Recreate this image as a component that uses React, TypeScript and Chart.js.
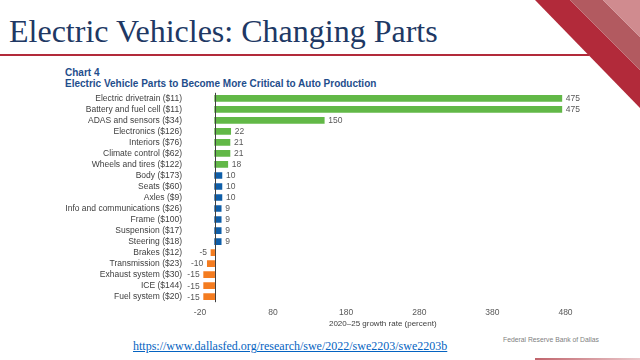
import React, { useEffect, useRef } from "react";
import { Chart, registerables } from "chart.js";

Chart.register(...registerables);

const categories = [
  "Electric drivetrain ($11)",
  "Battery and fuel cell ($11)",
  "ADAS and sensors ($34)",
  "Electronics ($126)",
  "Interiors ($76)",
  "Climate control ($62)",
  "Wheels and tires ($122)",
  "Body ($173)",
  "Seats ($60)",
  "Axles ($9)",
  "Info and communications ($26)",
  "Frame ($100)",
  "Suspension ($17)",
  "Steering ($18)",
  "Brakes ($12)",
  "Transmission ($23)",
  "Exhaust system ($30)",
  "ICE ($144)",
  "Fuel system ($20)",
];

const growthRates = [475, 475, 150, 22, 21, 21, 18, 10, 10, 10, 9, 9, 9, 9, -5, -10, -15, -15, -15];

const groups = [
  "high", "high", "high", "high", "high", "high", "high",
  "mid", "mid", "mid", "mid", "mid", "mid", "mid",
  "low", "low", "low", "low", "low",
];

const groupColors: Record<string, string> = {
  high: "#62B847",
  mid: "#0F5EA8",
  low: "#F47C20",
};

const xTicks = [-20, 80, 180, 280, 380, 480];

const FONT = "'Liberation Sans', Arial, sans-serif";

export default function App() {
  const ref = useRef<HTMLCanvasElement | null>(null);

  useEffect(() => {
    if (!ref.current) return;
    Chart.defaults.font.family = FONT;

    const zeroLine = {
      id: "zeroLine",
      afterDatasetsDraw(chart: any) {
        const { ctx, chartArea, scales } = chart;
        const x = Math.round(scales.x.getPixelForValue(0)) + 0.5;
        ctx.save();
        ctx.strokeStyle = "#404040";
        ctx.lineWidth = 1;
        ctx.beginPath();
        ctx.moveTo(x, chartArea.top);
        ctx.lineTo(x, chartArea.bottom);
        ctx.stroke();
        ctx.restore();
      },
    };

    const valueLabels = {
      id: "valueLabels",
      afterDatasetsDraw(chart: any) {
        const { ctx } = chart;
        const meta = chart.getDatasetMeta(0);
        ctx.save();
        ctx.font = `8.5px ${FONT}`;
        ctx.fillStyle = "#595959";
        ctx.textBaseline = "middle";
        meta.data.forEach((el: any, i: number) => {
          const v = growthRates[i];
          if (v >= 0) {
            ctx.textAlign = "left";
            ctx.fillText(String(v), el.x + 4, el.y + 0.5);
          } else {
            ctx.textAlign = "right";
            ctx.fillText(String(v), el.x - 4, el.y + 0.5);
          }
        });
        ctx.restore();
      },
    };

    const chart = new Chart(ref.current, {
      type: "bar",
      data: {
        labels: categories,
        datasets: [
          {
            data: growthRates,
            backgroundColor: groups.map((g) => groupColors[g]),
            barThickness: 6,
            borderWidth: 0,
          },
        ],
      },
      options: {
        indexAxis: "y",
        responsive: false,
        animation: false,
        layout: { padding: { top: 4.8, right: 34.5, left: 0, bottom: 0 } },
        plugins: {
          legend: { display: false },
          tooltip: { enabled: false },
        },
        scales: {
          x: {
            type: "linear",
            min: -20,
            max: 480,
            afterBuildTicks: (s: any) => {
              s.ticks = xTicks.map((v) => ({ value: v }));
            },
            afterFit: (s: any) => {
              s.height = 30.8;
            },
            grid: { display: false, drawTicks: false },
            border: { display: false },
            ticks: {
              padding: 5,
              color: "#595959",
              font: { size: 8.5 },
              autoSkip: false,
              maxRotation: 0,
            },
            title: {
              display: true,
              text: "2020–25 growth rate (percent)",
              color: "#404040",
              font: { size: 8 },
              padding: { top: 4, bottom: 4 },
            },
          },
          y: {
            afterFit: (s: any) => {
              s.width = 140;
              s.paddingTop = 0;
              s.paddingBottom = 0;
            },
            grid: { display: false, drawTicks: false },
            border: { display: false },
            ticks: {
              padding: 18,
              color: "#404040",
              font: { size: 8.5 },
              autoSkip: false,
            },
          },
        },
      } as any,
      plugins: [zeroLine, valueLabels],
    });
    return () => chart.destroy();
  }, []);

  return (
    <div
      style={{
        position: "fixed",
        left: 0,
        top: 0,
        width: 640,
        height: 360,
        background: "#ffffff",
        overflow: "hidden",
      }}
    >
      <svg
        width={640}
        height={360}
        style={{ position: "absolute", left: 0, top: 0 }}
      >
        <polygon points="535,0 570,0 640,70 640,108" fill="#B22A3A" />
        <polygon points="570,0 603,0 640,37 640,70" fill="#B25A60" />
        <polygon points="603,0 640,0 640,37" fill="#D08B8F" />
        <rect x={0} y={54} width={589} height={2} fill="#B22A3A" />
        <defs>
          <linearGradient id="bottomFade" x1="0" x2="1" y1="0" y2="0">
            <stop offset="0" stopColor="#C0646C" />
            <stop offset="1" stopColor="#EBC8CB" />
          </linearGradient>
        </defs>
        <rect x={535} y={358} width={105} height={2} fill="url(#bottomFade)" />
      </svg>

      <div
        style={{
          position: "absolute",
          left: 9,
          top: 15,
          fontFamily: "'Liberation Serif', 'Times New Roman', serif",
          fontSize: 32,
          lineHeight: "32px",
          color: "#203864",
          whiteSpace: "nowrap",
        }}
      >
        Electric Vehicles: Changing Parts
      </div>

      <div
        style={{
          position: "absolute",
          left: 65,
          top: 66.5,
          fontFamily: FONT,
          fontWeight: "bold",
          fontSize: 10,
          lineHeight: "11px",
          color: "#1F4E8C",
          whiteSpace: "nowrap",
        }}
      >
        <div>Chart 4</div>
        <div>Electric Vehicle Parts to Become More Critical to Auto Production</div>
      </div>

      <canvas
        ref={ref}
        width={540}
        height={245}
        style={{ position: "absolute", left: 60, top: 88, width: 540, height: 245 }}
      />

      <div
        style={{
          position: "absolute",
          left: 503,
          top: 336,
          fontFamily: FONT,
          fontSize: 6.8,
          lineHeight: "8px",
          color: "#7F7F7F",
          whiteSpace: "nowrap",
        }}
      >
        Federal Reserve Bank of Dallas
      </div>

      <a
        href="https://www.dallasfed.org/research/swe/2022/swe2203/swe2203b"
        style={{
          position: "absolute",
          left: 133,
          top: 339,
          fontFamily: "'Liberation Serif', 'Times New Roman', serif",
          fontSize: 12,
          lineHeight: "14px",
          color: "#0563C1",
          textDecoration: "underline",
          whiteSpace: "nowrap",
        }}
      >
        https://www.dallasfed.org/research/swe/2022/swe2203/swe2203b
      </a>
    </div>
  );
}
